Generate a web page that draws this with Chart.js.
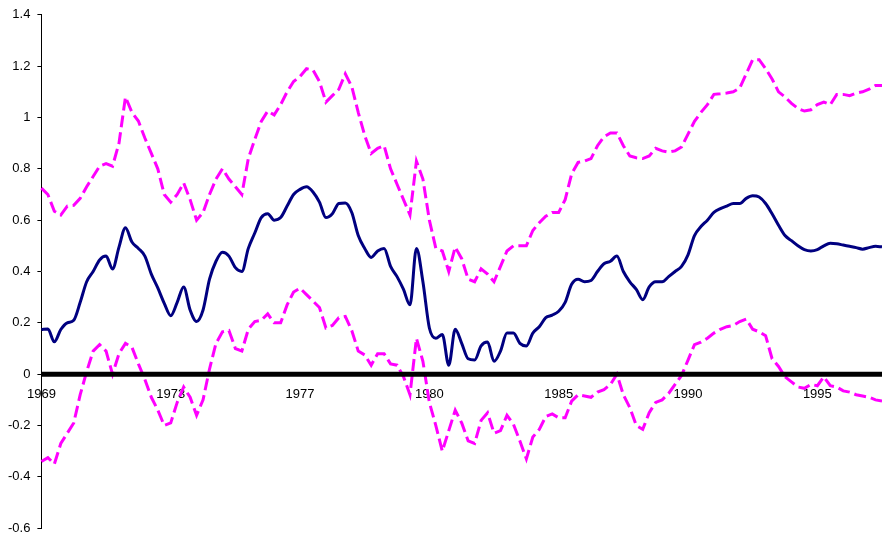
<!DOCTYPE html>
<html>
<head>
<meta charset="utf-8">
<script src="https://cdn.jsdelivr.net/npm/chart.js@4/dist/chart.umd.min.js"></script>
<style>
  html, body { margin: 0; padding: 0; background: #fff; overflow: hidden; }
  #wrap { width: 882px; height: 543px; position: relative; }
</style>
</head>
<body>
<div id="wrap"><canvas id="c"></canvas></div>
<script>
// Tick labels shown every 20 observations along the category axis
const tickLabels = ['1969', '1973', '1977', '1980', '1985', '1990', '1995'];
const tickEvery = 20;

// Central estimate (solid navy)
const estimate = [
  0.174, 0.176, 0.126, 0.174, 0.20, 0.21, 0.28, 0.36, 0.40, 0.445,
  0.46, 0.41, 0.495, 0.57, 0.515, 0.49, 0.46, 0.39, 0.336, 0.276,
  0.228, 0.28, 0.34, 0.25, 0.205, 0.25, 0.37, 0.44, 0.475, 0.46,
  0.415, 0.40, 0.49, 0.55, 0.61, 0.625, 0.60, 0.61, 0.655, 0.70,
  0.72, 0.73, 0.71, 0.67, 0.61, 0.625, 0.665, 0.667, 0.63, 0.54,
  0.49, 0.455, 0.48, 0.49, 0.42, 0.38, 0.33, 0.27, 0.49, 0.36,
  0.18, 0.14, 0.155, 0.035, 0.175, 0.12, 0.06, 0.055, 0.11, 0.125,
  0.05, 0.09, 0.16, 0.16, 0.12, 0.11, 0.16, 0.185, 0.22, 0.23,
  0.245, 0.28, 0.35, 0.37, 0.36, 0.365, 0.40, 0.43, 0.44, 0.46,
  0.40, 0.36, 0.33, 0.29, 0.34, 0.36, 0.36, 0.38, 0.40, 0.42,
  0.465, 0.54, 0.575, 0.60, 0.63, 0.645, 0.655, 0.665, 0.665, 0.685,
  0.695, 0.69, 0.665, 0.625, 0.58, 0.54, 0.52, 0.50, 0.485, 0.48,
  0.485, 0.50, 0.51, 0.508, 0.503, 0.498, 0.493, 0.487, 0.493, 0.498,
  0.496
];

// Upper band (dashed magenta)
const upperBand = [
  0.725, 0.70, 0.635, 0.62, 0.655, 0.658, 0.685, 0.73, 0.77, 0.81,
  0.82, 0.81, 0.90, 1.08, 1.02, 0.986, 0.92, 0.86, 0.80, 0.70,
  0.67, 0.70, 0.745, 0.68, 0.60, 0.63, 0.70, 0.76, 0.80, 0.76,
  0.73, 0.70, 0.84, 0.915, 0.985, 1.025, 1.01, 1.05, 1.10, 1.14,
  1.16, 1.19, 1.185, 1.14, 1.06, 1.085, 1.11, 1.17, 1.12, 1.02,
  0.93, 0.86, 0.88, 0.89, 0.80, 0.74, 0.68, 0.62, 0.83, 0.76,
  0.60, 0.49, 0.48, 0.40, 0.495, 0.45, 0.37, 0.36, 0.41, 0.39,
  0.36, 0.42, 0.48, 0.50, 0.50, 0.50, 0.56, 0.59, 0.615, 0.63,
  0.63, 0.68, 0.78, 0.825, 0.83, 0.84, 0.89, 0.925, 0.94, 0.94,
  0.89, 0.85, 0.843, 0.84, 0.85, 0.88, 0.87, 0.865, 0.87, 0.885,
  0.935, 0.985, 1.02, 1.05, 1.09, 1.092, 1.095, 1.10, 1.115, 1.17,
  1.225, 1.225, 1.19, 1.15, 1.10, 1.08, 1.055, 1.035, 1.025, 1.03,
  1.05, 1.06, 1.05, 1.09, 1.09, 1.085, 1.095, 1.10, 1.11, 1.125,
  1.125
];

// Lower band (dashed magenta)
const lowerBand = [
  -0.34, -0.325, -0.35, -0.27, -0.23, -0.19, -0.08, 0.01, 0.09, 0.115,
  0.09, 0.0, 0.08, 0.12, 0.105, 0.04, -0.02, -0.09, -0.14, -0.20,
  -0.19, -0.11, -0.05, -0.09, -0.16, -0.10, 0.02, 0.12, 0.165, 0.17,
  0.10, 0.09, 0.175, 0.205, 0.21, 0.235, 0.20, 0.20, 0.27, 0.32,
  0.335, 0.31, 0.285, 0.26, 0.18, 0.19, 0.22, 0.225, 0.17, 0.09,
  0.075, 0.035, 0.08, 0.08, 0.04, 0.035, -0.01, -0.08, 0.14, 0.05,
  -0.11, -0.20, -0.30, -0.22, -0.14, -0.19, -0.26, -0.27, -0.18, -0.15,
  -0.23, -0.22, -0.16, -0.195, -0.26, -0.33, -0.245, -0.215, -0.165, -0.155,
  -0.17, -0.17, -0.105, -0.08, -0.085, -0.09, -0.07, -0.06, -0.04, 0.0,
  -0.08, -0.13, -0.20, -0.215, -0.15, -0.11, -0.10, -0.075, -0.04, -0.005,
  0.055, 0.115, 0.125, 0.14, 0.16, 0.175, 0.185, 0.19, 0.205, 0.215,
  0.175, 0.165, 0.15, 0.06, 0.03, -0.01, -0.03, -0.05, -0.055, -0.04,
  -0.045, -0.01, -0.045, -0.05, -0.065, -0.07, -0.08, -0.085, -0.09, -0.10,
  -0.105
];

const categories = estimate.map((_, i) => i);

const zeroLine = {
  id: 'zeroLine',
  afterDatasetsDraw(chart) {
    const { ctx, chartArea, scales } = chart;
    const y = scales.y.getPixelForValue(0);
    ctx.save();
    ctx.beginPath();
    ctx.strokeStyle = '#000';
    ctx.lineWidth = 5;
    ctx.moveTo(chartArea.left, y);
    ctx.lineTo(chartArea.right, y);
    ctx.stroke();
    ctx.restore();
  }
};

const font = { family: '"Liberation Sans", Arial, sans-serif', size: 13 };

new Chart(document.getElementById('c'), {
  type: 'line',
  data: {
    labels: categories,
    datasets: [
      {
        data: upperBand,
        borderColor: '#FF00FF',
        borderWidth: 3,
        borderDash: [12, 5],
        pointRadius: 0,
        tension: 0
      },
      {
        data: estimate,
        borderColor: '#000080',
        borderWidth: 3,
        pointRadius: 0,
        cubicInterpolationMode: 'monotone'
      },
      {
        data: lowerBand,
        borderColor: '#FF00FF',
        borderWidth: 3,
        borderDash: [12, 5],
        pointRadius: 0,
        tension: 0
      }
    ]
  },
  options: {
    responsive: true,
    maintainAspectRatio: false,
    devicePixelRatio: 1,
    animation: false,
    layout: { padding: { top: 3, right: 0, bottom: 0, left: 1 } },
    plugins: { legend: { display: false }, tooltip: { enabled: false } },
    scales: {
      x: {
        type: 'category',
        offset: false,
        position: { y: 0 },
        afterFit: (s) => { s.height = 0; },
        grid: { display: false },
        border: { display: false },
        ticks: {
          autoSkip: false,
          maxRotation: 0,
          minRotation: 0,
          padding: 4,
          color: '#000',
          font: font,
          callback: (v, i) => (i % tickEvery === 0 ? tickLabels[i / tickEvery] : null)
        }
      },
      y: {
        min: -0.6,
        max: 1.4,
        ticks: {
          stepSize: 0.2,
          padding: 7,
          color: '#000',
          font: font,
          callback: (v) => String(Math.round(v * 10) / 10)
        },
        grid: { drawOnChartArea: false, drawTicks: true, tickLength: 4, color: '#000' },
        border: { display: true, color: '#000', width: 1 }
      }
    }
  },
  plugins: [zeroLine]
});
</script>
</body>
</html>
